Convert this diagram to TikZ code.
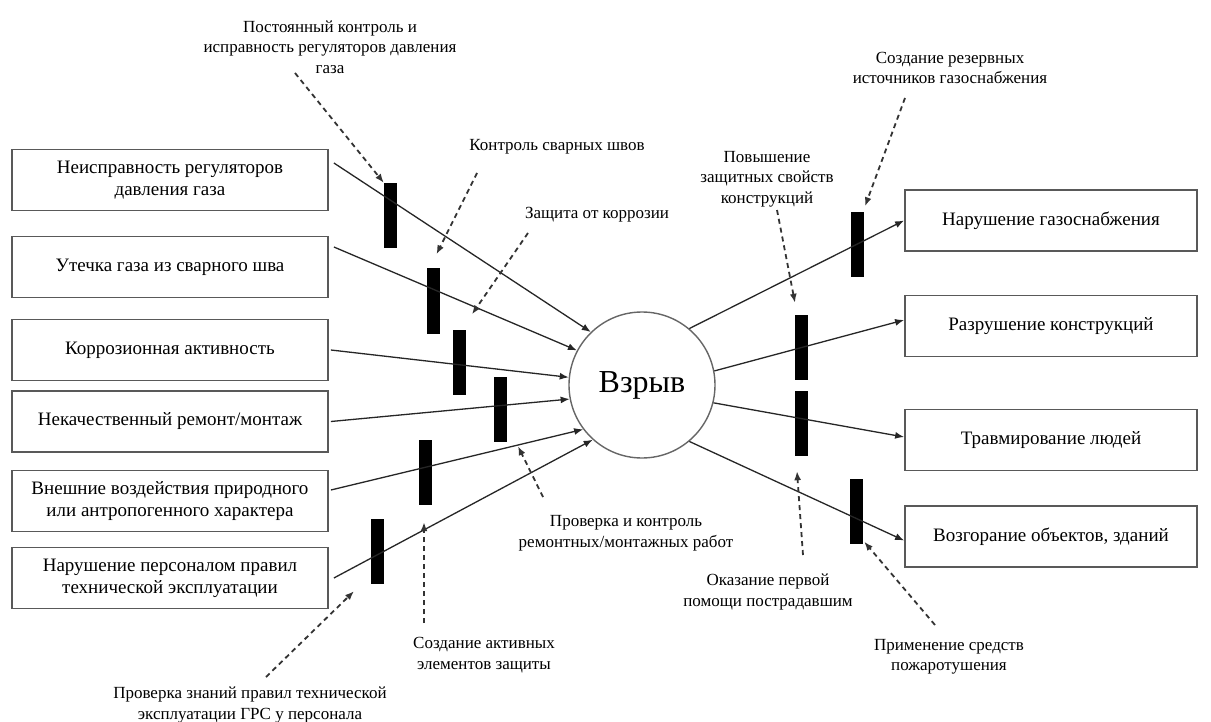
\documentclass[tikz,border=0pt]{standalone}
\usepackage{fontspec}
\setmainfont{Liberation Serif}
\usetikzlibrary{arrows.meta}
\newcommand{\boxfont}{\fontsize{19}{22}\selectfont}
\newcommand{\labfont}{\fontsize{17}{20.5}\selectfont}
\tikzset{
  box/.style={draw=black!65, line width=1.8pt, minimum height=61, inner sep=0pt, align=center, font=\boxfont},
  lbox/.style={box, minimum width=316},
  rbox/.style={box, minimum width=292},
  blk/.style={fill=black, draw=none, minimum width=13, minimum height=65, inner sep=0pt},
  lab/.style={align=center, font=\labfont, inner sep=0pt},
  flow/.style={draw=black!85, line width=1.3pt, -{Latex[length=9pt,width=7pt]}},
  ctl/.style={draw=black!80, line width=1.8pt, dash pattern=on 5pt off 4pt, -{Latex[length=9pt,width=7pt]}},
  core/.style={circle, draw=black!60, line width=1.4pt, minimum size=146, inner sep=0pt, font=\fontsize{32}{36}\selectfont},
}
\begin{document}
\begin{tikzpicture}[x=1pt,y=-1pt]
\useasboundingbox (0,0) rectangle (1211,722);
\fill[white] (0,0) rectangle (1211,722);

% left boxes
\node[lbox] (l1) at (170,180) {Неисправность регуляторов\\давления газа};
\node[lbox] (l2) at (170,267) {Утечка газа из сварного шва};
\node[lbox] (l3) at (170,350) {Коррозионная активность};
\node[lbox] (l4) at (170,421.5) {Некачественный ремонт/монтаж};
\node[lbox] (l5) at (170,501) {Внешние воздействия природного\\или антропогенного характера};
\node[lbox] (l6) at (170,578) {Нарушение персоналом правил\\технической эксплуатации};

% right boxes
\node[rbox] (r1) at (1051,220.5) {Нарушение газоснабжения};
\node[rbox] (r2) at (1051,326) {Разрушение конструкций};
\node[rbox] (r3) at (1051,440) {Травмирование людей};
\node[rbox] (r4) at (1051,536.5) {Возгорание объектов, зданий};

% central event
\node[core] (c) at (642,385) {Взрыв};

% barriers
\node[blk] (b1) at (390.5,215.5) {};
\node[blk] (b2) at (433.5,301) {};
\node[blk] (b3) at (459.5,362) {};
\node[blk] (b4) at (500.5,409.5) {};
\node[blk] (b5) at (425.5,472.5) {};
\node[blk] (b6) at (377,551.5) {};
\node[blk] (br1) at (857,245) {};
\node[blk] (br2) at (801.5,347.5) {};
\node[blk] (br3) at (801.5,423.5) {};
\node[blk] (br4) at (856.5,511) {};

% labels
\node[lab] (t1) at (330,47) {Постоянный контроль и\\исправность регуляторов давления\\газа};
\node[lab] (t2) at (557,147) {Контроль сварных швов};
\node[lab] (t3) at (597,215) {Защита от коррозии};
\node[lab] (t4) at (626,533) {Проверка и контроль\\ремонтных/монтажных работ};
\node[lab] (t5) at (484,655) {Создание активных\\элементов защиты};
\node[lab] (t6) at (250,705) {Проверка знаний правил технической\\эксплуатации ГРС у персонала};
\node[lab] (t7) at (950,68) {Создание резервных\\источников газоснабжения};
\node[lab] (t8) at (767,179) {Повышение\\защитных свойств\\конструкций};
\node[lab] (t9) at (768,592) {Оказание первой\\помощи пострадавшим};
\node[lab] (t10) at (949,657) {Применение средств\\пожаротушения};

% free ends of the control arrows
\coordinate (d1) at (295,73);
\coordinate (d2) at (477,173);
\coordinate (d3) at (528,233);
\coordinate (d4) at (543,497);
\coordinate (d5) at (424,623);
\coordinate (d6) at (266,677);
\coordinate (d7) at (905,98);
\coordinate (d8) at (777,210);
\coordinate (d9) at (803,555);
\coordinate (d10) at (935,625);

% causes -> explosion
\draw[flow] ([shift={(5,-17)}]l1.east) -- (c.134);
\draw[flow] ([shift={(5,-20)}]l2.east) -- (c.152);
\draw[flow] ([shift={(2,0)}]l3.east) -- (c.174);
\draw[flow] ([shift={(2,0)}]l4.east) -- (c.191);
\draw[flow] ([shift={(2,-11)}]l5.east) -- (c.217);
\draw[flow] ([shift={(5,0)}]l6.east) -- (c.228);

% explosion -> consequences
\draw[flow] (c.50) -- (r1.west);
\draw[flow] (c.11) -- ([yshift=6]r2.west);
\draw[flow] (c.-14) -- ([yshift=3]r3.west);
\draw[flow] (c.-50) -- ([yshift=-4]r4.west);

% control measures
\draw[ctl] (d1) -- (b1.north west);
\draw[ctl] (d2) -- ([shift={(3,-14)}]b2.north);
\draw[ctl] (d3) -- ([shift={(12.5,-15)}]b3.north);
\draw[ctl] (d4) -- ([shift={(17.5,4)}]b4.south);
\draw[ctl] (d5) -- ([shift={(-1.5,17)}]b5.south);
\draw[ctl] (d6) -- ([shift={(-23,7)}]b6.south);
\draw[ctl] (d7) -- ([shift={(8,-6)}]br1.north);
\draw[ctl] (d8) -- ([shift={(-6.5,-12)}]br2.north);
\draw[ctl] (d9) -- ([shift={(-4.5,15)}]br3.south);
\draw[ctl] (d10) -- ([shift={(1,-2)}]br4.south east);
\end{tikzpicture}
\end{document}
